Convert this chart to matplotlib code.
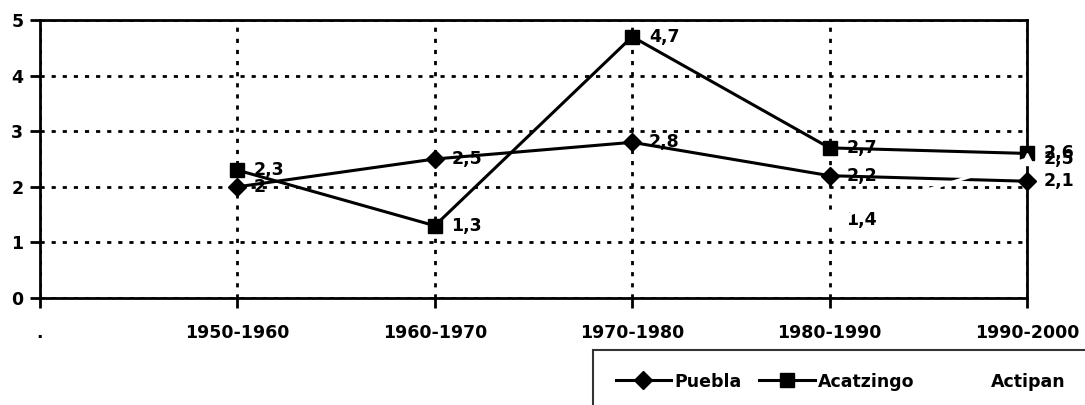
import numpy as np
import matplotlib.pyplot as plt

# categories on the x axis (first one is a placeholder shown as ".")
categories = [".", "1950-1960", "1960-1970", "1970-1980", "1980-1990", "1990-2000"]

# growth rates per decade
puebla = [np.nan, 2.0, 2.5, 2.8, 2.2, 2.1]
acatzingo = [np.nan, 2.3, 1.3, 4.7, 2.7, 2.6]
actipan = [np.nan, np.nan, np.nan, np.nan, 1.4, 2.5]

yticks = [0, 1, 2, 3, 4, 5]

plt.rcParams['font.family'] = ['DejaVu Sans']
plt.rcParams['font.weight'] = 'bold'
fs = 12.5


def fmt(v):
    # comma decimal, drop trailing ",0"
    s = f"{v:.1f}".replace(".", ",")
    return s[:-2] if s.endswith(",0") else s


def add_labels(ax, xs, ys):
    for x, y in zip(xs, ys):
        if np.isnan(y):
            continue
        ax.annotate(fmt(y), (x, y), xytext=(12, 0), textcoords='offset points',
                    ha='left', va='center', fontsize=fs, fontweight='bold',
                    zorder=1.5, annotation_clip=False)


fig = plt.figure(figsize=(10.85, 4.05), dpi=100)
ax = fig.add_axes([40 / 1085, 1 - 298 / 405, 987 / 1085, 278 / 405])

x = np.arange(len(categories))

ax.plot(x, puebla, color='black', lw=2.2, marker='D', markersize=9,
        label='Puebla', clip_on=False, zorder=3)
ax.plot(x, acatzingo, color='black', lw=2.2, marker='s', markersize=9.5,
        label='Acatzingo', clip_on=False, zorder=3)
ax.plot(x, actipan, color='white', lw=2.2, marker='^', markersize=9,
        markeredgecolor='white', label='Actipan', clip_on=False, zorder=4)

add_labels(ax, x, puebla)
add_labels(ax, x, acatzingo)
add_labels(ax, x, actipan)

ax.set_xlim(0, len(categories) - 1)
ax.set_ylim(0, 5)
ax.set_xticks(x)
ax.set_xticklabels(categories, fontsize=fs, fontweight='bold')
ax.set_yticks(yticks)
ax.set_yticklabels([str(t) for t in yticks], fontsize=fs, fontweight='bold')

ax.tick_params(axis='both', direction='out', length=7, width=2, color='black')
ax.tick_params(axis='x', pad=12)
ax.tick_params(axis='y', pad=5)

for side in ['left', 'bottom', 'top', 'right']:
    ax.spines[side].set_linewidth(2)
    ax.spines[side].set_color('black')

ax.grid(True, color='black', lw=2, linestyle=(0, (1.5, 2.5)))
ax.set_axisbelow(True)

leg = fig.legend(loc='upper left', bbox_to_anchor=(593 / 1085, 1 - 350 / 405),
                 ncol=3, frameon=True, fancybox=False, edgecolor='black',
                 fontsize=fs, handlelength=3.2, handletextpad=0.2,
                 columnspacing=1.0, borderpad=1.3, borderaxespad=0)
leg.get_frame().set_linewidth(1.5)
for t in leg.get_texts():
    t.set_fontweight('bold')

fig.savefig('out.png', dpi=100)
